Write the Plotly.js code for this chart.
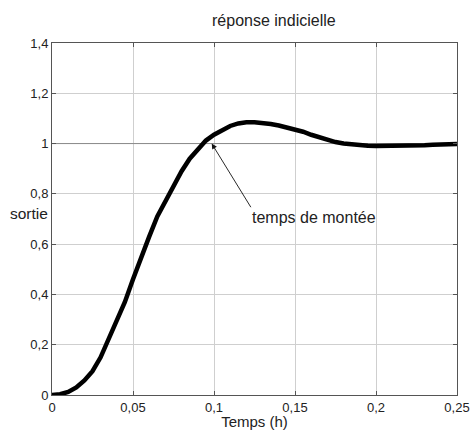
<!DOCTYPE html>
<html>
<head>
<meta charset="utf-8">
<script src="https://cdn.plot.ly/plotly-3.0.1.min.js"></script>
<style>html,body{margin:0;padding:0;background:#fff;}#chart{width:473px;height:430px;}</style>
</head>
<body>
<div id="chart"></div>
<script>
var temps = [0, 0.005, 0.01, 0.015, 0.02, 0.025, 0.03, 0.035, 0.04, 0.045, 0.05, 0.055, 0.06, 0.065, 0.07, 0.075, 0.08, 0.085, 0.09, 0.095, 0.1, 0.105, 0.11, 0.115, 0.12, 0.125, 0.13, 0.135, 0.14, 0.145, 0.15, 0.155, 0.16, 0.165, 0.17, 0.175, 0.18, 0.185, 0.19, 0.195, 0.2, 0.205, 0.21, 0.215, 0.22, 0.225, 0.23, 0.235, 0.24, 0.245, 0.25];
var sortie = [0, 0.003, 0.012, 0.03, 0.058, 0.095, 0.15, 0.22, 0.29, 0.37, 0.46, 0.55, 0.63, 0.71, 0.77, 0.83, 0.89, 0.94, 0.975, 1.012, 1.035, 1.055, 1.07, 1.08, 1.085, 1.085, 1.083, 1.078, 1.072, 1.065, 1.057, 1.047, 1.035, 1.024, 1.014, 1.006, 1.0, 0.996, 0.993, 0.991, 0.99, 0.99, 0.99, 0.99, 0.99, 0.991, 0.993, 0.995, 0.997, 0.998, 0.998];
var xTicks = [0, 0.05, 0.1, 0.15, 0.2, 0.25];
var yTicks = [0, 0.2, 0.4, 0.6, 0.8, 1, 1.2, 1.4];
var refLevel = [1, 1];
var refX = [0, 0.25];
var arrowHead = {x: 0.0986, y: 1.0};
var arrowTail = {x: 0.1233, y: 0.741};
var labelPos = {x: 0.1617, y: 0.706};

var fam = '"Liberation Sans", Arial, sans-serif';
var tickFont = {family: fam, size: 13, color: '#222'};
var bigFont = {family: fam, size: 16, color: '#222'};

var traces = [
  {x: refX, y: refLevel, mode: 'lines', line: {color: '#8a8a8a', width: 1}, hoverinfo: 'skip', showlegend: false},
  {x: temps, y: sortie, mode: 'lines', line: {color: '#000', width: 4.5}, showlegend: false}
];

var layout = {
  width: 473, height: 430,
  margin: {l: 52, r: 16, t: 43, b: 35, pad: 0},
  paper_bgcolor: '#fff', plot_bgcolor: '#fff',
  separators: ',.',
  font: tickFont,
  showlegend: false,
  title: {text: 'réponse indicielle', font: bigFont, x: 0.579, xref: 'container', xanchor: 'center', y: 0.953, yref: 'container', yanchor: 'middle'},
  xaxis: {
    range: [0, 0.25], tickvals: xTicks, ticks: 'inside', ticklen: 4, tickcolor: '#555',
    showline: true, linecolor: '#555', linewidth: 1, mirror: 'ticks',
    showgrid: true, gridcolor: '#cfcfcf', gridwidth: 1, zeroline: false,
    tickfont: tickFont,
    title: {text: 'Temps (h)', font: {family: fam, size: 15, color: '#222'}, standoff: 2}
  },
  yaxis: {
    range: [0, 1.4], tickvals: yTicks, ticks: 'inside', ticklen: 4, tickcolor: '#555',
    showline: true, linecolor: '#555', linewidth: 1, mirror: 'ticks',
    showgrid: true, gridcolor: '#cfcfcf', gridwidth: 1, zeroline: false,
    tickfont: tickFont, ticklabelstandoff: 0
  },
  annotations: [
    {x: arrowHead.x, y: arrowHead.y, ax: arrowTail.x, ay: arrowTail.y, axref: 'x', ayref: 'y', xref: 'x', yref: 'y',
     text: '', showarrow: true, arrowhead: 2, arrowsize: 1.2, arrowwidth: 0.9, arrowcolor: '#111', standoff: 0},
    {x: labelPos.x, y: labelPos.y, xref: 'x', yref: 'y', text: 'temps de montée', showarrow: false, font: bigFont},
    {x: -0.004, y: 0.723, xref: 'paper', yref: 'y', xanchor: 'right', yanchor: 'middle', text: 'sortie', showarrow: false, font: {family: fam, size: 15.5, color: '#222'}}
  ]
};

Plotly.newPlot('chart', traces, layout, {displayModeBar: false, staticPlot: true});
</script>
</body>
</html>
